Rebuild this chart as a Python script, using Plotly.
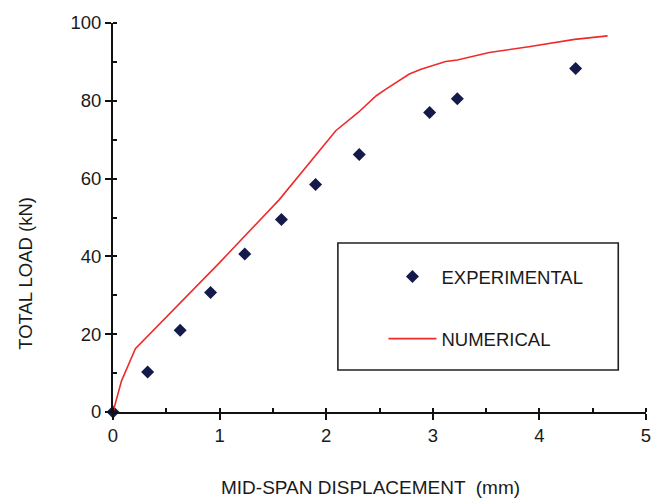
import plotly.graph_objects as go

# Experimental data
exp_x = [0, 0.325, 0.63, 0.915, 1.236, 1.58, 1.90, 2.31, 2.97, 3.23, 4.34]
exp_y = [0, 10.3, 21.0, 30.7, 40.6, 49.5, 58.5, 66.2, 77.0, 80.5, 88.3]

# Numerical curve
num_x = [0, 0.08, 0.21, 0.6, 1.0, 1.56, 2.09, 2.3, 2.47, 2.56, 2.7, 2.78, 2.89,
         3.0, 3.12, 3.23, 3.53, 3.9, 4.33, 4.64]
num_y = [0, 8, 16.3, 27.3, 38.4, 54.6, 72.3, 77.0, 81.3, 83.0, 85.5, 86.9, 88.1,
         89.0, 90.1, 90.5, 92.4, 93.9, 95.8, 96.7]

x_ticks = [0, 1, 2, 3, 4, 5]
y_ticks = [0, 20, 40, 60, 80, 100]

FONT = "Liberation Sans, Arial, sans-serif"
TXT = "#1a1a1a"

fig = go.Figure()
fig.add_trace(go.Scatter(
    x=exp_x, y=exp_y, mode="markers", name="EXPERIMENTAL",
    marker=dict(symbol="diamond", size=10, color="#141a4a"),
    legendgroup="a", cliponaxis=False,
))
fig.add_trace(go.Scatter(
    x=num_x, y=num_y, mode="lines", name="NUMERICAL",
    line=dict(color="#ee2b2b", width=1.6),
    legendgroup="b", cliponaxis=False,
))

L, R, T, B = 113, 6, 23, 86
W, H = 657, 498
pw, ph = W - L - R, H - T - B

def px2paper_x(px):
    return (px - L) / pw

def px2paper_y(py):
    return (H - B - py) / ph

fig.update_layout(
    width=W, height=H,
    margin=dict(l=L, r=R, t=T, b=B, pad=0),
    plot_bgcolor="white", paper_bgcolor="white",
    font=dict(family=FONT, size=18, color=TXT),
    showlegend=True,
    legend=dict(
        x=px2paper_x(386), y=px2paper_y(258), xanchor="left", yanchor="top",
        bgcolor="rgba(0,0,0,0)", borderwidth=0,
        itemwidth=48, tracegroupgap=35,
        font=dict(family=FONT, size=18.5, color=TXT),
    ),
    xaxis=dict(
        range=[0, 5], tickvals=x_ticks, showgrid=False, zeroline=False,
        showline=True, linecolor="#111", linewidth=1.8,
        ticks="outside", ticklen=6, tickwidth=1.8, tickcolor="#111",
        minor=dict(dtick=0.5, ticks="inside", ticklen=4, tickwidth=1.5, tickcolor="#111", showgrid=False),
        tickfont=dict(size=18.5, color=TXT), ticklabeloverflow="allow",
    ),
    yaxis=dict(
        range=[0, 100], tickvals=y_ticks, showgrid=False, zeroline=False,
        showline=True, linecolor="#111", linewidth=1.8,
        ticks="outside", ticklen=6, tickwidth=1.8, tickcolor="#111",
        minor=dict(dtick=10, ticks="inside", ticklen=4, tickwidth=1.5, tickcolor="#111", showgrid=False),
        tickfont=dict(size=18.5, color=TXT), ticklabeloverflow="allow",
    ),
    shapes=[dict(
        type="rect", xref="paper", yref="paper",
        x0=px2paper_x(340), x1=px2paper_x(623),
        y0=px2paper_y(370), y1=px2paper_y(243),
        line=dict(color="#222", width=1.6), fillcolor="rgba(0,0,0,0)",
    )],
    annotations=[
        dict(text="MID-SPAN DISPLACEMENT  (mm)", xref="paper", yref="paper",
             x=px2paper_x(373), y=px2paper_y(487), xanchor="center", yanchor="middle",
             showarrow=False, font=dict(size=19, color=TXT)),
        dict(text="TOTAL LOAD (kN)", xref="paper", yref="paper",
             x=px2paper_x(24), y=px2paper_y(273), xanchor="center", yanchor="middle",
             textangle=-90, showarrow=False, font=dict(size=18.5, color=TXT)),
    ],
)

fig.write_html("out.html")
